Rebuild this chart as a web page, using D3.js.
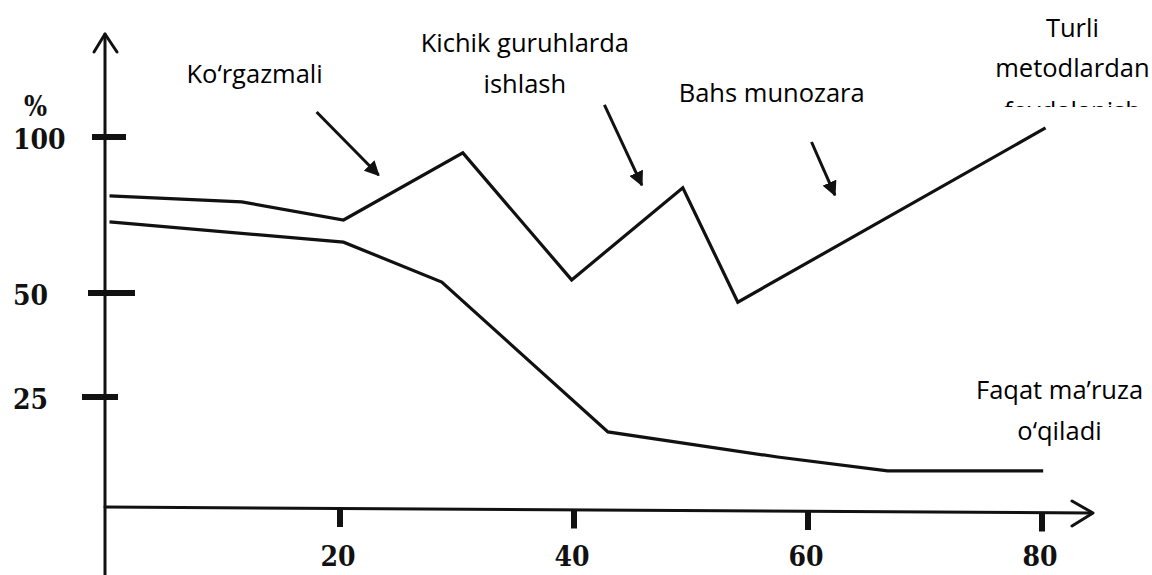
<!DOCTYPE html>
<html>
<head>
<meta charset="utf-8">
<script src="https://cdn.jsdelivr.net/npm/d3@7"></script>
<style>
  html, body { margin: 0; padding: 0; background: #fff; }
  svg { display: block; }
</style>
</head>
<body>
<script>
// ---------------- data ----------------
const xTickValues = [20, 40, 60, 80];
const yTickValues = [25, 50, 100];
const yUnitLabel = "%";

// upper line (interactive methods)
const upperX = [0.3, 11.6, 20.3, 30.5, 39.8, 49.3, 54.0, 80.3];
const upperY = [81.1, 79.2, 73.4, 94.9, 54.2, 83.7, 47.8, 102.9];

// lower line (lecture only)
const lowerX = [0.3, 20.3, 28.7, 42.9, 57.4, 66.8, 80.1];
const lowerY = [72.8, 66.3, 53.5, 17.2, 11.6, 8.5, 8.5];

// annotation texts (data coordinates: x, baseline value)
const labelLines = [
  ["Ko‘rgazmali", 12.7, 117.3],
  ["Kichik guruhlarda", 35.8, 127.2],
  ["ishlash", 35.8, 114.1],
  ["Bahs munozara", 56.9, 111.2],
  ["Turli", 82.6, 132.1],
  ["metodlardan", 82.6, 119.2],
  ["foydalanish", 82.6, 105.4],
  ["Faqat ma’ruza", 81.5, 24.6],
  ["o‘qiladi", 81.5, 15.4]
];

// annotation arrows (data coordinates: x1, y1, x2, y2)
const arrowX1 = [18.0, 42.6, 60.3];
const arrowY1 = [108.0, 110.3, 98.4];
const arrowX2 = [23.3, 45.8, 62.3];
const arrowY2 = [87.8, 84.6, 81.4];

// ---------------- layout ----------------
const W = 1152, H = 575;
const svg = d3.select("body").append("svg").attr("width", W).attr("height", H);
svg.append("rect").attr("width", W).attr("height", H).attr("fill", "#fff");

const x = d3.scaleLinear().domain([0, 80]).range([106, 1042]);
// hand-drawn axis: uneven spacing between ticks
const y = d3.scaleLinear().domain([0, 25, 50, 100]).range([509, 397, 293, 137]);

const ink = "#111";
const numFont = "'DejaVu Serif Condensed', 'DejaVu Serif', serif";
const txtFont = "'Open Sans', 'Noto Sans', sans-serif";

// clip for the partially hidden third line of the top-right label
svg.append("clipPath").attr("id", "cut")
  .append("rect").attr("x", 0).attr("y", 0).attr("width", W).attr("height", y(109.6));

// arrow marker
svg.append("defs").append("marker")
  .attr("id", "ah").attr("viewBox", "0 0 10 10")
  .attr("refX", 9).attr("refY", 5)
  .attr("markerWidth", 5).attr("markerHeight", 5)
  .attr("orient", "auto")
  .append("path").attr("d", "M0,0 L10,5 L0,10 Z").attr("fill", ink);

// ---------------- axes ----------------
const ax = svg.append("g").attr("stroke", ink).attr("fill", "none")
  .attr("stroke-linecap", "round").attr("stroke-linejoin", "round");
const x0 = x(0) - 1;
// y axis
ax.append("line").attr("x1", x0).attr("y1", H).attr("x2", x0).attr("y2", 34).attr("stroke-width", 3);
ax.append("path").attr("d", `M${x0 - 11},${52} L${x0},${34} L${x0 + 12},${52}`).attr("stroke-width", 3);
// x axis
const y0 = y(0);
ax.append("line").attr("x1", x0).attr("y1", y0 - 2).attr("x2", 1092).attr("y2", y0 + 4).attr("stroke-width", 3);
ax.append("path").attr("d", `M1072,${y0 - 8} L1093,${y0 + 4} L1072,${y0 + 17}`).attr("stroke-width", 3);

// y ticks (thick dashes, uneven lengths as drawn)
const yTickExtent = { 25: [-23, 13], 50: [-17, 30], 100: [-13, 21] };
yTickValues.forEach(v => {
  const e = yTickExtent[v];
  ax.append("line").attr("x1", x0 + e[0]).attr("x2", x0 + e[1])
    .attr("y1", y(v)).attr("y2", y(v)).attr("stroke-width", 6).attr("stroke-linecap", "butt");
});
// x ticks
xTickValues.forEach((v, i) => {
  const yy = y0 + i * 1.5;
  ax.append("line").attr("x1", x(v)).attr("x2", x(v))
    .attr("y1", yy).attr("y2", yy + 18).attr("stroke-width", 6).attr("stroke-linecap", "butt");
});

// tick labels
const tl = svg.append("g").attr("fill", ink).attr("font-family", numFont)
  .attr("font-weight", "bold").attr("font-size", 28);
yTickValues.forEach(v => {
  tl.append("text").attr("x", 13).attr("y", y(v) + 12).text(v);
});
tl.append("text").attr("x", 24).attr("y", y(100) - 21).attr("font-size", 27).text(yUnitLabel);
xTickValues.forEach(v => {
  tl.append("text").attr("x", x(v) - 2).attr("y", 566).attr("text-anchor", "middle").text(v);
});

// ---------------- series ----------------
const line = d3.line().x(d => x(d[0])).y(d => y(d[1]));
const upper = upperX.map((v, i) => [v, upperY[i]]);
const lower = lowerX.map((v, i) => [v, lowerY[i]]);
svg.append("path").datum(upper).attr("d", line)
  .attr("fill", "none").attr("stroke", ink).attr("stroke-width", 3.2).attr("stroke-linejoin", "miter");
svg.append("path").datum(lower).attr("d", line)
  .attr("fill", "none").attr("stroke", ink).attr("stroke-width", 3.2).attr("stroke-linejoin", "miter");

// ---------------- annotations ----------------
arrowX1.forEach((v, i) => {
  svg.append("line")
    .attr("x1", x(v)).attr("y1", y(arrowY1[i]))
    .attr("x2", x(arrowX2[i])).attr("y2", y(arrowY2[i]))
    .attr("stroke", ink).attr("stroke-width", 3).attr("marker-end", "url(#ah)");
});

const ann = svg.append("g").attr("fill", "#000").attr("font-family", txtFont).attr("font-size", 25.5)
  .attr("text-anchor", "middle");
labelLines.forEach(d => {
  const t = ann.append("text").attr("x", x(d[1])).attr("y", y(d[2])).text(d[0]);
  if (d[0] === "foydalanish") t.attr("clip-path", "url(#cut)");
});
</script>
</body>
</html>
